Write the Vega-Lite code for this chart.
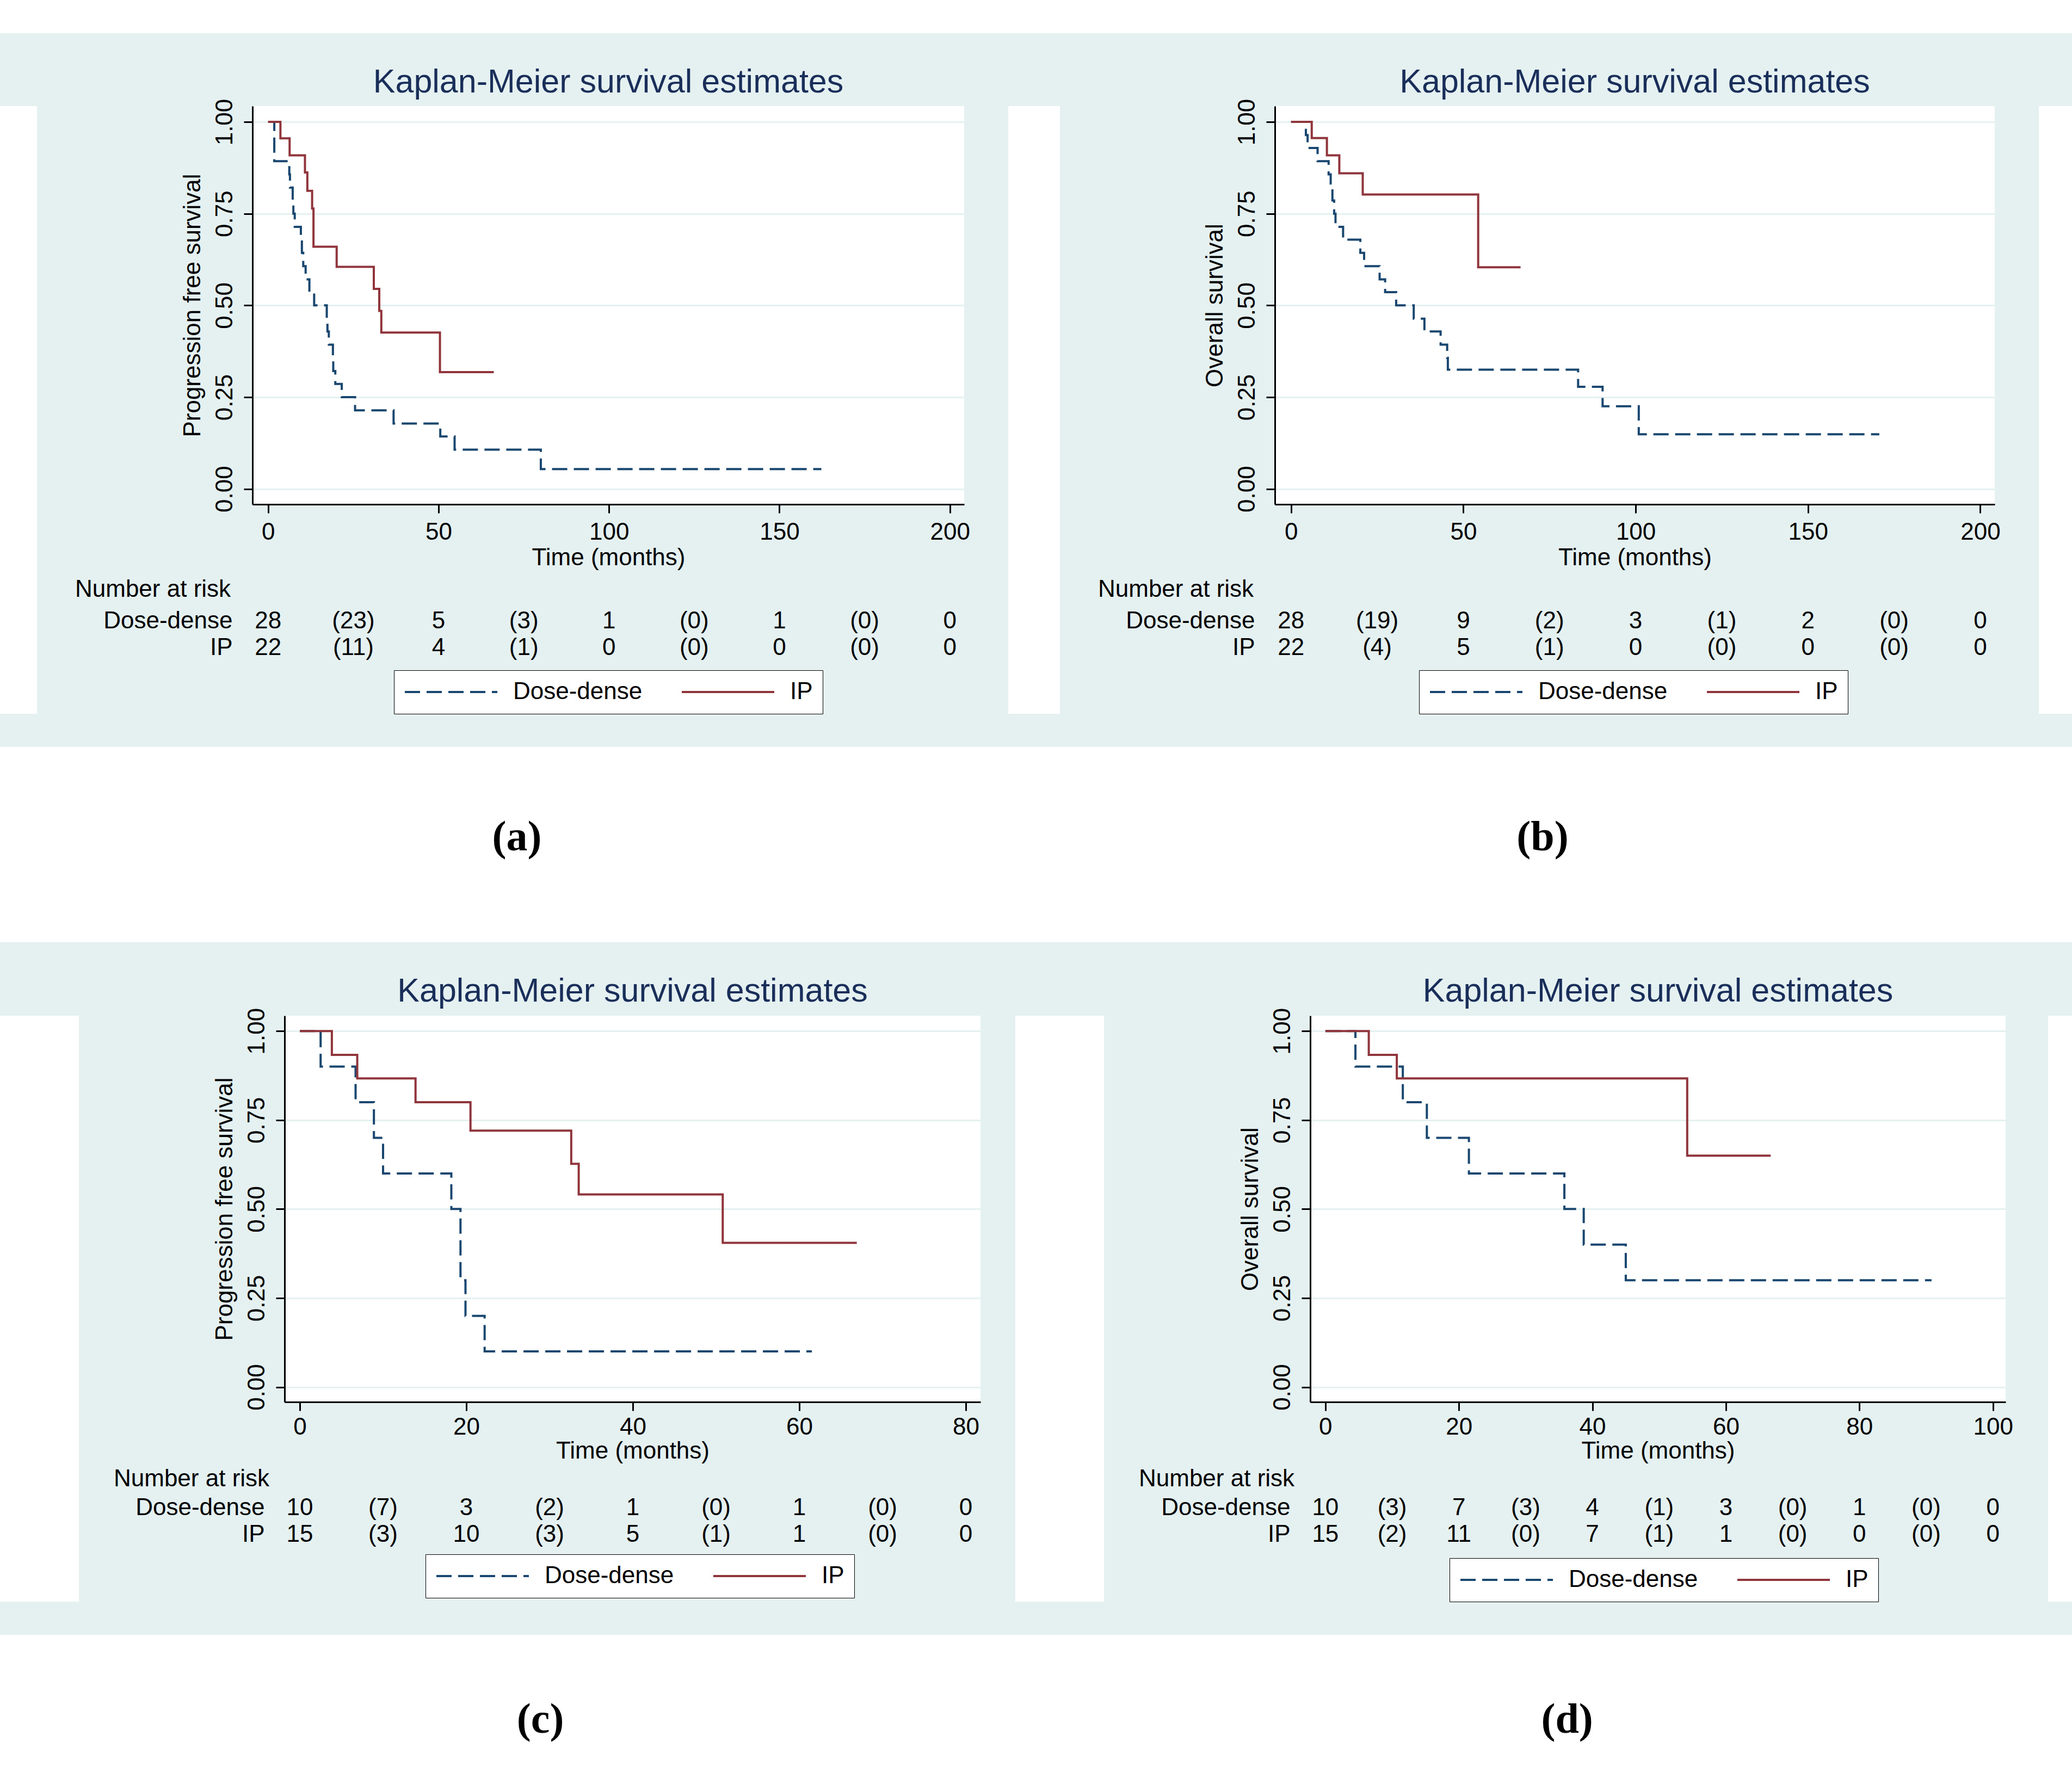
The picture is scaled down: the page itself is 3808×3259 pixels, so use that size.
{
  "$schema": "https://vega.github.io/schema/vega-lite/v6.json",
  "padding": 0,
  "background": "#e5f0f1",
  "config": {
    "font": "Liberation Sans",
    "view": {"stroke": null},
    "title": {"font": "Liberation Sans", "fontSize": 61, "fontWeight": "normal", "color": "#1a2e5a", "offset": -2, "baseline": "alphabetic"},
    "axis": {"labelFont": "Liberation Sans", "titleFont": "Liberation Sans", "labelFontSize": 44, "titleFontSize": 44, "titleFontWeight": "normal", "labelColor": "black", "titleColor": "black", "domainColor": "black", "domainWidth": 3, "tickColor": "black", "tickWidth": 3, "tickSize": 16, "gridColor": "#e5f0f1", "gridWidth": 3, "labelOverlap": false, "labelFlush": false, "labelLimit": 1000},
    "legend": {"labelLimit": 1000},
    "text": {"font": "Liberation Sans"}
  },
  "datasets": {
    "km": [
      {"panel":"a","group":"Dose-dense","t":0,"s":1},{"panel":"a","group":"Dose-dense","t":1.8,"s":0.893},{"panel":"a","group":"Dose-dense","t":6.2,"s":0.857},{"panel":"a","group":"Dose-dense","t":6.4,"s":0.821},{"panel":"a","group":"Dose-dense","t":7.2,"s":0.786},{"panel":"a","group":"Dose-dense","t":7.4,"s":0.75},{"panel":"a","group":"Dose-dense","t":7.8,"s":0.714},{"panel":"a","group":"Dose-dense","t":9.6,"s":0.679},{"panel":"a","group":"Dose-dense","t":9.9,"s":0.643},{"panel":"a","group":"Dose-dense","t":10.3,"s":0.607},{"panel":"a","group":"Dose-dense","t":11.0,"s":0.571},{"panel":"a","group":"Dose-dense","t":12.1,"s":0.536},{"panel":"a","group":"Dose-dense","t":13.5,"s":0.5},{"panel":"a","group":"Dose-dense","t":17.2,"s":0.464},{"panel":"a","group":"Dose-dense","t":17.4,"s":0.429},{"panel":"a","group":"Dose-dense","t":17.8,"s":0.393},{"panel":"a","group":"Dose-dense","t":19.0,"s":0.357},{"panel":"a","group":"Dose-dense","t":19.1,"s":0.321},{"panel":"a","group":"Dose-dense","t":19.7,"s":0.286},{"panel":"a","group":"Dose-dense","t":21.6,"s":0.25},{"panel":"a","group":"Dose-dense","t":25.5,"s":0.214},{"panel":"a","group":"Dose-dense","t":36.8,"s":0.178},{"panel":"a","group":"Dose-dense","t":50.5,"s":0.143},{"panel":"a","group":"Dose-dense","t":54.7,"s":0.107},{"panel":"a","group":"Dose-dense","t":80.0,"s":0.054},{"panel":"a","group":"Dose-dense","t":162.3,"s":0.054},
      {"panel":"a","group":"IP","t":0,"s":1},{"panel":"a","group":"IP","t":3.6,"s":0.955},{"panel":"a","group":"IP","t":6.3,"s":0.909},{"panel":"a","group":"IP","t":10.8,"s":0.862},{"panel":"a","group":"IP","t":11.5,"s":0.812},{"panel":"a","group":"IP","t":12.9,"s":0.764},{"panel":"a","group":"IP","t":13.3,"s":0.66},{"panel":"a","group":"IP","t":20.1,"s":0.605},{"panel":"a","group":"IP","t":31.0,"s":0.545},{"panel":"a","group":"IP","t":32.6,"s":0.485},{"panel":"a","group":"IP","t":33.2,"s":0.426},{"panel":"a","group":"IP","t":50.4,"s":0.318},{"panel":"a","group":"IP","t":66.2,"s":0.318},
      {"panel":"b","group":"Dose-dense","t":0,"s":1},{"panel":"b","group":"Dose-dense","t":4.3,"s":0.964},{"panel":"b","group":"Dose-dense","t":4.8,"s":0.929},{"panel":"b","group":"Dose-dense","t":7.7,"s":0.893},{"panel":"b","group":"Dose-dense","t":10.9,"s":0.857},{"panel":"b","group":"Dose-dense","t":11.5,"s":0.821},{"panel":"b","group":"Dose-dense","t":12.0,"s":0.786},{"panel":"b","group":"Dose-dense","t":12.5,"s":0.75},{"panel":"b","group":"Dose-dense","t":12.9,"s":0.714},{"panel":"b","group":"Dose-dense","t":15.1,"s":0.679},{"panel":"b","group":"Dose-dense","t":20.1,"s":0.643},{"panel":"b","group":"Dose-dense","t":21.2,"s":0.607},{"panel":"b","group":"Dose-dense","t":25.7,"s":0.571},{"panel":"b","group":"Dose-dense","t":27.3,"s":0.536},{"panel":"b","group":"Dose-dense","t":30.5,"s":0.5},{"panel":"b","group":"Dose-dense","t":35.6,"s":0.464},{"panel":"b","group":"Dose-dense","t":38.7,"s":0.429},{"panel":"b","group":"Dose-dense","t":43.4,"s":0.393},{"panel":"b","group":"Dose-dense","t":45.3,"s":0.357},{"panel":"b","group":"Dose-dense","t":45.5,"s":0.325},{"panel":"b","group":"Dose-dense","t":83.3,"s":0.278},{"panel":"b","group":"Dose-dense","t":90.4,"s":0.225},{"panel":"b","group":"Dose-dense","t":100.9,"s":0.149},{"panel":"b","group":"Dose-dense","t":170.7,"s":0.149},
      {"panel":"b","group":"IP","t":0,"s":1},{"panel":"b","group":"IP","t":6.0,"s":0.956},{"panel":"b","group":"IP","t":10.4,"s":0.909},{"panel":"b","group":"IP","t":14.0,"s":0.86},{"panel":"b","group":"IP","t":20.8,"s":0.802},{"panel":"b","group":"IP","t":54.3,"s":0.604},{"panel":"b","group":"IP","t":66.6,"s":0.604},
      {"panel":"c","group":"Dose-dense","t":0,"s":1},{"panel":"c","group":"Dose-dense","t":2.5,"s":0.9},{"panel":"c","group":"Dose-dense","t":6.7,"s":0.8},{"panel":"c","group":"Dose-dense","t":8.9,"s":0.7},{"panel":"c","group":"Dose-dense","t":10.0,"s":0.6},{"panel":"c","group":"Dose-dense","t":18.2,"s":0.5},{"panel":"c","group":"Dose-dense","t":19.3,"s":0.3},{"panel":"c","group":"Dose-dense","t":19.9,"s":0.2},{"panel":"c","group":"Dose-dense","t":22.2,"s":0.1},{"panel":"c","group":"Dose-dense","t":61.5,"s":0.1},
      {"panel":"c","group":"IP","t":0,"s":1},{"panel":"c","group":"IP","t":3.85,"s":0.933},{"panel":"c","group":"IP","t":6.9,"s":0.867},{"panel":"c","group":"IP","t":13.9,"s":0.8},{"panel":"c","group":"IP","t":20.5,"s":0.72},{"panel":"c","group":"IP","t":32.6,"s":0.627},{"panel":"c","group":"IP","t":33.5,"s":0.541},{"panel":"c","group":"IP","t":50.8,"s":0.405},{"panel":"c","group":"IP","t":66.9,"s":0.405},
      {"panel":"d","group":"Dose-dense","t":0,"s":1},{"panel":"d","group":"Dose-dense","t":4.5,"s":0.9},{"panel":"d","group":"Dose-dense","t":11.6,"s":0.8},{"panel":"d","group":"Dose-dense","t":15.2,"s":0.7},{"panel":"d","group":"Dose-dense","t":21.5,"s":0.6},{"panel":"d","group":"Dose-dense","t":35.8,"s":0.5},{"panel":"d","group":"Dose-dense","t":38.7,"s":0.4},{"panel":"d","group":"Dose-dense","t":45.0,"s":0.3},{"panel":"d","group":"Dose-dense","t":90.8,"s":0.3},
      {"panel":"d","group":"IP","t":0,"s":1},{"panel":"d","group":"IP","t":6.5,"s":0.933},{"panel":"d","group":"IP","t":10.7,"s":0.867},{"panel":"d","group":"IP","t":54.2,"s":0.65},{"panel":"d","group":"IP","t":66.7,"s":0.65}
    ],
    "risk": [
      {"panel":"a","group":"Dose-dense","t":0,"n":"28"},{"panel":"a","group":"Dose-dense","t":25,"n":"(23)"},{"panel":"a","group":"Dose-dense","t":50,"n":"5"},{"panel":"a","group":"Dose-dense","t":75,"n":"(3)"},{"panel":"a","group":"Dose-dense","t":100,"n":"1"},{"panel":"a","group":"Dose-dense","t":125,"n":"(0)"},{"panel":"a","group":"Dose-dense","t":150,"n":"1"},{"panel":"a","group":"Dose-dense","t":175,"n":"(0)"},{"panel":"a","group":"Dose-dense","t":200,"n":"0"},
      {"panel":"a","group":"IP","t":0,"n":"22"},{"panel":"a","group":"IP","t":25,"n":"(11)"},{"panel":"a","group":"IP","t":50,"n":"4"},{"panel":"a","group":"IP","t":75,"n":"(1)"},{"panel":"a","group":"IP","t":100,"n":"0"},{"panel":"a","group":"IP","t":125,"n":"(0)"},{"panel":"a","group":"IP","t":150,"n":"0"},{"panel":"a","group":"IP","t":175,"n":"(0)"},{"panel":"a","group":"IP","t":200,"n":"0"},
      {"panel":"b","group":"Dose-dense","t":0,"n":"28"},{"panel":"b","group":"Dose-dense","t":25,"n":"(19)"},{"panel":"b","group":"Dose-dense","t":50,"n":"9"},{"panel":"b","group":"Dose-dense","t":75,"n":"(2)"},{"panel":"b","group":"Dose-dense","t":100,"n":"3"},{"panel":"b","group":"Dose-dense","t":125,"n":"(1)"},{"panel":"b","group":"Dose-dense","t":150,"n":"2"},{"panel":"b","group":"Dose-dense","t":175,"n":"(0)"},{"panel":"b","group":"Dose-dense","t":200,"n":"0"},
      {"panel":"b","group":"IP","t":0,"n":"22"},{"panel":"b","group":"IP","t":25,"n":"(4)"},{"panel":"b","group":"IP","t":50,"n":"5"},{"panel":"b","group":"IP","t":75,"n":"(1)"},{"panel":"b","group":"IP","t":100,"n":"0"},{"panel":"b","group":"IP","t":125,"n":"(0)"},{"panel":"b","group":"IP","t":150,"n":"0"},{"panel":"b","group":"IP","t":175,"n":"(0)"},{"panel":"b","group":"IP","t":200,"n":"0"},
      {"panel":"c","group":"Dose-dense","t":0,"n":"10"},{"panel":"c","group":"Dose-dense","t":10,"n":"(7)"},{"panel":"c","group":"Dose-dense","t":20,"n":"3"},{"panel":"c","group":"Dose-dense","t":30,"n":"(2)"},{"panel":"c","group":"Dose-dense","t":40,"n":"1"},{"panel":"c","group":"Dose-dense","t":50,"n":"(0)"},{"panel":"c","group":"Dose-dense","t":60,"n":"1"},{"panel":"c","group":"Dose-dense","t":70,"n":"(0)"},{"panel":"c","group":"Dose-dense","t":80,"n":"0"},
      {"panel":"c","group":"IP","t":0,"n":"15"},{"panel":"c","group":"IP","t":10,"n":"(3)"},{"panel":"c","group":"IP","t":20,"n":"10"},{"panel":"c","group":"IP","t":30,"n":"(3)"},{"panel":"c","group":"IP","t":40,"n":"5"},{"panel":"c","group":"IP","t":50,"n":"(1)"},{"panel":"c","group":"IP","t":60,"n":"1"},{"panel":"c","group":"IP","t":70,"n":"(0)"},{"panel":"c","group":"IP","t":80,"n":"0"},
      {"panel":"d","group":"Dose-dense","t":0,"n":"10"},{"panel":"d","group":"Dose-dense","t":10,"n":"(3)"},{"panel":"d","group":"Dose-dense","t":20,"n":"7"},{"panel":"d","group":"Dose-dense","t":30,"n":"(3)"},{"panel":"d","group":"Dose-dense","t":40,"n":"4"},{"panel":"d","group":"Dose-dense","t":50,"n":"(1)"},{"panel":"d","group":"Dose-dense","t":60,"n":"3"},{"panel":"d","group":"Dose-dense","t":70,"n":"(0)"},{"panel":"d","group":"Dose-dense","t":80,"n":"1"},{"panel":"d","group":"Dose-dense","t":90,"n":"(0)"},{"panel":"d","group":"Dose-dense","t":100,"n":"0"},
      {"panel":"d","group":"IP","t":0,"n":"15"},{"panel":"d","group":"IP","t":10,"n":"(2)"},{"panel":"d","group":"IP","t":20,"n":"11"},{"panel":"d","group":"IP","t":30,"n":"(0)"},{"panel":"d","group":"IP","t":40,"n":"7"},{"panel":"d","group":"IP","t":50,"n":"(1)"},{"panel":"d","group":"IP","t":60,"n":"1"},{"panel":"d","group":"IP","t":70,"n":"(0)"},{"panel":"d","group":"IP","t":80,"n":"0"},{"panel":"d","group":"IP","t":90,"n":"(0)"},{"panel":"d","group":"IP","t":100,"n":"0"}
    ]
  },
  "spacing": 60,
  "resolve": {"scale": {"color": "independent", "strokeDash": "independent"}, "legend": {"color": "independent", "strokeDash": "independent"}},
  "vconcat": [
    {"width": 3808, "height": 61, "view": {"fill": "white"}, "data": {"values": [{}]}, "mark": {"type": "text", "text": ""}},
    {
      "spacing": 70,
      "resolve": {"scale": {"color": "independent", "strokeDash": "independent"}, "legend": {"color": "independent", "strokeDash": "independent"}},
      "hconcat": [
        {"width": 68, "height": 1117, "view": {"fill": "white"}, "data": {"values": [{}]}, "mark": {"type": "text", "text": ""}},
        {
          "spacing": 15,
          "vconcat": [
            {
              "width": 1308, "height": 732,
              "view": {"fill": "white"},
              "title": {"text": "Kaplan-Meier survival estimates"},
              "data": {"name": "km"},
              "transform": [{"filter": "datum.panel == 'a'"}],
              "mark": {"type": "line", "interpolate": "step-after", "strokeWidth": 4, "strokeCap": "butt"},
              "encoding": {
                "x": {"field": "t", "type": "quantitative", "scale": {"domain": [-4.6, 204.2], "nice": false, "zero": false}, "axis": {"values": [0, 50, 100, 150, 200], "title": "Time (months)", "grid": false, "labelPadding": 13, "titlePadding": 3}},
                "y": {"field": "s", "type": "quantitative", "scale": {"domain": [-0.042, 1.043], "nice": false, "zero": false}, "axis": {"values": [0, 0.25, 0.5, 0.75, 1], "format": ".2f", "title": "Progression free survival", "grid": true, "labelAngle": -90, "labelAlign": "center", "labelBaseline": "bottom", "labelPadding": 13, "titlePadding": 15}},
                "color": {"field": "group", "type": "nominal", "scale": {"domain": ["Dose-dense", "IP"], "range": ["#1a476f", "#90353b"]}, "legend": {"orient": "none", "legendX": 260, "legendY": 1037, "direction": "horizontal", "title": null, "fillColor": "white", "strokeColor": "black", "padding": 18, "labelFontSize": 44, "labelFont": "Liberation Sans", "labelColor": "black", "symbolType": "stroke", "symbolSize": 28900, "symbolStrokeWidth": 4, "labelOffset": 27, "columnPadding": 70, "clipHeight": 44}},
                "strokeDash": {"field": "group", "type": "nominal", "scale": {"domain": ["Dose-dense", "IP"], "range": [[28, 12], [1, 0]]}, "legend": {"orient": "none", "legendX": 260, "legendY": 1037, "direction": "horizontal", "title": null, "fillColor": "white", "strokeColor": "black", "padding": 18, "labelFontSize": 44, "labelFont": "Liberation Sans", "labelColor": "black", "symbolType": "stroke", "symbolSize": 28900, "symbolStrokeWidth": 4, "labelOffset": 27, "columnPadding": 70, "clipHeight": 44}}
              }
            },
            {
              "width": 1308, "height": 98,
              "title": {"text": "Number at risk", "anchor": "start", "frame": "group", "dx": -326, "fontSize": 44, "color": "black", "offset": 11},
              "data": {"name": "risk"},
              "transform": [{"filter": "datum.panel == 'a'"}],
              "mark": {"type": "text", "fontSize": 44, "color": "black"},
              "encoding": {
                "x": {"field": "t", "type": "quantitative", "scale": {"domain": [-4.6, 204.2], "nice": false, "zero": false}, "axis": null},
                "y": {"field": "group", "type": "nominal", "scale": {"domain": ["Dose-dense", "IP"]}, "axis": {"title": null, "domain": false, "ticks": false, "tickSize": 0, "grid": false, "labelPadding": 37}},
                "text": {"field": "n", "type": "nominal"}
              }
            }
          ]
        },
        {"width": 95, "height": 1117, "view": {"fill": "white"}, "data": {"values": [{}]}, "mark": {"type": "text", "text": ""}},
        {
          "spacing": 15,
          "vconcat": [
            {
              "width": 1323, "height": 732,
              "view": {"fill": "white"},
              "title": {"text": "Kaplan-Meier survival estimates"},
              "data": {"name": "km"},
              "transform": [{"filter": "datum.panel == 'b'"}],
              "mark": {"type": "line", "interpolate": "step-after", "strokeWidth": 4, "strokeCap": "butt"},
              "encoding": {
                "x": {"field": "t", "type": "quantitative", "scale": {"domain": [-4.7, 204.2], "nice": false, "zero": false}, "axis": {"values": [0, 50, 100, 150, 200], "title": "Time (months)", "grid": false, "labelPadding": 13, "titlePadding": 3}},
                "y": {"field": "s", "type": "quantitative", "scale": {"domain": [-0.042, 1.043], "nice": false, "zero": false}, "axis": {"values": [0, 0.25, 0.5, 0.75, 1], "format": ".2f", "title": "Overall survival", "grid": true, "labelAngle": -90, "labelAlign": "center", "labelBaseline": "bottom", "labelPadding": 13, "titlePadding": 15}},
                "color": {"field": "group", "type": "nominal", "scale": {"domain": ["Dose-dense", "IP"], "range": ["#1a476f", "#90353b"]}, "legend": {"orient": "none", "legendX": 265, "legendY": 1037, "direction": "horizontal", "title": null, "fillColor": "white", "strokeColor": "black", "padding": 18, "labelFontSize": 44, "labelFont": "Liberation Sans", "labelColor": "black", "symbolType": "stroke", "symbolSize": 28900, "symbolStrokeWidth": 4, "labelOffset": 27, "columnPadding": 70, "clipHeight": 44}},
                "strokeDash": {"field": "group", "type": "nominal", "scale": {"domain": ["Dose-dense", "IP"], "range": [[28, 12], [1, 0]]}, "legend": {"orient": "none", "legendX": 265, "legendY": 1037, "direction": "horizontal", "title": null, "fillColor": "white", "strokeColor": "black", "padding": 18, "labelFontSize": 44, "labelFont": "Liberation Sans", "labelColor": "black", "symbolType": "stroke", "symbolSize": 28900, "symbolStrokeWidth": 4, "labelOffset": 27, "columnPadding": 70, "clipHeight": 44}}
              }
            },
            {
              "width": 1323, "height": 98,
              "title": {"text": "Number at risk", "anchor": "start", "frame": "group", "dx": -325, "fontSize": 44, "color": "black", "offset": 11},
              "data": {"name": "risk"},
              "transform": [{"filter": "datum.panel == 'b'"}],
              "mark": {"type": "text", "fontSize": 44, "color": "black"},
              "encoding": {
                "x": {"field": "t", "type": "quantitative", "scale": {"domain": [-4.7, 204.2], "nice": false, "zero": false}, "axis": null},
                "y": {"field": "group", "type": "nominal", "scale": {"domain": ["Dose-dense", "IP"]}, "axis": {"title": null, "domain": false, "ticks": false, "tickSize": 0, "grid": false, "labelPadding": 37}},
                "text": {"field": "n", "type": "nominal"}
              }
            }
          ]
        },
        {"width": 61, "height": 1117, "view": {"fill": "white"}, "data": {"values": [{}]}, "mark": {"type": "text", "text": ""}}
      ]
    },
    {
      "width": 3808, "height": 359, "view": {"fill": "white"},
      "data": {"values": [{"label": "(a)"}, {"label": "(b)"}]},
      "mark": {"type": "text", "font": "Liberation Serif", "fontSize": 78, "fontWeight": "bold", "color": "black", "dy": -13},
      "encoding": {
        "x": {"field": "label", "type": "nominal", "axis": null, "scale": {"type": "point", "padding": 0.51, "align": 0.494}},
        "text": {"field": "label", "type": "nominal"}
      }
    },
    {
      "spacing": 64,
      "resolve": {"scale": {"color": "independent", "strokeDash": "independent"}, "legend": {"color": "independent", "strokeDash": "independent"}},
      "hconcat": [
        {"width": 145, "height": 1077, "view": {"fill": "white"}, "data": {"values": [{}]}, "mark": {"type": "text", "text": ""}},
        {
          "spacing": 8,
          "vconcat": [
            {
              "width": 1279, "height": 710,
              "view": {"fill": "white"},
              "title": {"text": "Kaplan-Meier survival estimates"},
              "data": {"name": "km"},
              "transform": [{"filter": "datum.panel == 'c'"}],
              "mark": {"type": "line", "interpolate": "step-after", "strokeWidth": 4, "strokeCap": "butt"},
              "encoding": {
                "x": {"field": "t", "type": "quantitative", "scale": {"domain": [-1.83, 81.76], "nice": false, "zero": false}, "axis": {"values": [0, 20, 40, 60, 80], "title": "Time (months)", "grid": false, "labelPadding": 8, "titlePadding": 0}},
                "y": {"field": "s", "type": "quantitative", "scale": {"domain": [-0.042, 1.043], "nice": false, "zero": false}, "axis": {"values": [0, 0.25, 0.5, 0.75, 1], "format": ".2f", "title": "Progression free survival", "grid": true, "labelAngle": -90, "labelAlign": "center", "labelBaseline": "bottom", "labelPadding": 13, "titlePadding": 15}},
                "color": {"field": "group", "type": "nominal", "scale": {"domain": ["Dose-dense", "IP"], "range": ["#1a476f", "#90353b"]}, "legend": {"orient": "none", "legendX": 259, "legendY": 990, "direction": "horizontal", "title": null, "fillColor": "white", "strokeColor": "black", "padding": 18, "labelFontSize": 44, "labelFont": "Liberation Sans", "labelColor": "black", "symbolType": "stroke", "symbolSize": 28900, "symbolStrokeWidth": 4, "labelOffset": 27, "columnPadding": 70, "clipHeight": 44}},
                "strokeDash": {"field": "group", "type": "nominal", "scale": {"domain": ["Dose-dense", "IP"], "range": [[28, 12], [1, 0]]}, "legend": {"orient": "none", "legendX": 259, "legendY": 990, "direction": "horizontal", "title": null, "fillColor": "white", "strokeColor": "black", "padding": 18, "labelFontSize": 44, "labelFont": "Liberation Sans", "labelColor": "black", "symbolType": "stroke", "symbolSize": 28900, "symbolStrokeWidth": 4, "labelOffset": 27, "columnPadding": 70, "clipHeight": 44}}
              }
            },
            {
              "width": 1279, "height": 98,
              "title": {"text": "Number at risk", "anchor": "start", "frame": "group", "dx": -314, "fontSize": 44, "color": "black", "offset": 6},
              "data": {"name": "risk"},
              "transform": [{"filter": "datum.panel == 'c'"}],
              "mark": {"type": "text", "fontSize": 44, "color": "black"},
              "encoding": {
                "x": {"field": "t", "type": "quantitative", "scale": {"domain": [-1.83, 81.76], "nice": false, "zero": false}, "axis": null},
                "y": {"field": "group", "type": "nominal", "scale": {"domain": ["Dose-dense", "IP"]}, "axis": {"title": null, "domain": false, "ticks": false, "tickSize": 0, "grid": false, "labelPadding": 37}},
                "text": {"field": "n", "type": "nominal"}
              }
            }
          ]
        },
        {"width": 163, "height": 1077, "view": {"fill": "white"}, "data": {"values": [{}]}, "mark": {"type": "text", "text": ""}},
        {
          "spacing": 8,
          "vconcat": [
            {
              "width": 1278, "height": 710,
              "view": {"fill": "white"},
              "title": {"text": "Kaplan-Meier survival estimates"},
              "data": {"name": "km"},
              "transform": [{"filter": "datum.panel == 'd'"}],
              "mark": {"type": "line", "interpolate": "step-after", "strokeWidth": 4, "strokeCap": "butt"},
              "encoding": {
                "x": {"field": "t", "type": "quantitative", "scale": {"domain": [-2.27, 101.9], "nice": false, "zero": false}, "axis": {"values": [0, 20, 40, 60, 80, 100], "title": "Time (months)", "grid": false, "labelPadding": 8, "titlePadding": 0}},
                "y": {"field": "s", "type": "quantitative", "scale": {"domain": [-0.042, 1.043], "nice": false, "zero": false}, "axis": {"values": [0, 0.25, 0.5, 0.75, 1], "format": ".2f", "title": "Overall survival", "grid": true, "labelAngle": -90, "labelAlign": "center", "labelBaseline": "bottom", "labelPadding": 13, "titlePadding": 15}},
                "color": {"field": "group", "type": "nominal", "scale": {"domain": ["Dose-dense", "IP"], "range": ["#1a476f", "#90353b"]}, "legend": {"orient": "none", "legendX": 256, "legendY": 997, "direction": "horizontal", "title": null, "fillColor": "white", "strokeColor": "black", "padding": 18, "labelFontSize": 44, "labelFont": "Liberation Sans", "labelColor": "black", "symbolType": "stroke", "symbolSize": 28900, "symbolStrokeWidth": 4, "labelOffset": 27, "columnPadding": 70, "clipHeight": 44}},
                "strokeDash": {"field": "group", "type": "nominal", "scale": {"domain": ["Dose-dense", "IP"], "range": [[28, 12], [1, 0]]}, "legend": {"orient": "none", "legendX": 256, "legendY": 997, "direction": "horizontal", "title": null, "fillColor": "white", "strokeColor": "black", "padding": 18, "labelFontSize": 44, "labelFont": "Liberation Sans", "labelColor": "black", "symbolType": "stroke", "symbolSize": 28900, "symbolStrokeWidth": 4, "labelOffset": 27, "columnPadding": 70, "clipHeight": 44}}
              }
            },
            {
              "width": 1278, "height": 98,
              "title": {"text": "Number at risk", "anchor": "start", "frame": "group", "dx": -315, "fontSize": 44, "color": "black", "offset": 6},
              "data": {"name": "risk"},
              "transform": [{"filter": "datum.panel == 'd'"}],
              "mark": {"type": "text", "fontSize": 44, "color": "black"},
              "encoding": {
                "x": {"field": "t", "type": "quantitative", "scale": {"domain": [-2.27, 101.9], "nice": false, "zero": false}, "axis": null},
                "y": {"field": "group", "type": "nominal", "scale": {"domain": ["Dose-dense", "IP"]}, "axis": {"title": null, "domain": false, "ticks": false, "tickSize": 0, "grid": false, "labelPadding": 37}},
                "text": {"field": "n", "type": "nominal"}
              }
            }
          ]
        },
        {"width": 47, "height": 1077, "view": {"fill": "white"}, "data": {"values": [{}]}, "mark": {"type": "text", "text": ""}}
      ]
    },
    {
      "width": 3808, "height": 259, "view": {"fill": "white"},
      "data": {"values": [{"label": "(c)"}, {"label": "(d)"}]},
      "mark": {"type": "text", "font": "Liberation Serif", "fontSize": 78, "fontWeight": "bold", "color": "black", "dy": 27},
      "encoding": {
        "x": {"field": "label", "type": "nominal", "axis": null, "scale": {"type": "point", "padding": 0.509, "align": 0.517}},
        "text": {"field": "label", "type": "nominal"}
      }
    }
  ]
}
